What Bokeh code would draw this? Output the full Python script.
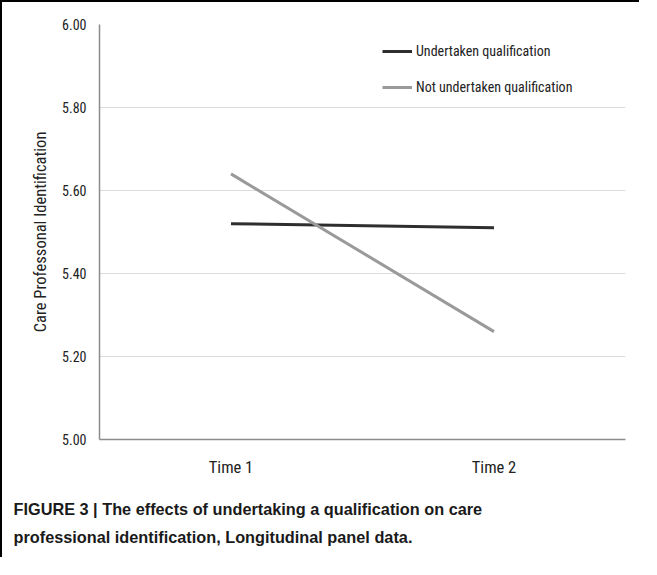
from bokeh.plotting import figure
from bokeh.models import Legend, LegendItem, FixedTicker, PrintfTickFormatter, Title
from bokeh.embed import file_html
from bokeh.resources import INLINE

times = ["Time 1", "Time 2"]
undertaken = [5.52, 5.51]
not_undertaken = [5.64, 5.26]
y_ticks = [5.0, 5.2, 5.4, 5.6, 5.8, 6.0]
y_label = "Care Professonal Identification"
series_names = ["Undertaken qualification", "Not undertaken qualification"]
caption_lines = [
    "FIGURE 3 | The effects of undertaking a qualification on care",
    "professional identification, Longitudinal panel data.",
]

COND = "Roboto Condensed"

p = figure(
    x_range=times, y_range=(5.0, 6.0),
    width=639, height=557,
    min_border_left=97, min_border_right=16, min_border_top=22, min_border_bottom=120,
    output_backend="svg", toolbar_location=None,
)
p.styles = {"border-left": "2px solid #000", "border-top": "2px solid #000"}
p.outline_line_color = None
p.background_fill_color = "white"

r1 = p.line(times, undertaken, line_color="#2e2e2e", line_width=3)
r2 = p.line(times, not_undertaken, line_color="#9a9a9a", line_width=3)

p.yaxis.ticker = FixedTicker(ticks=y_ticks)
p.yaxis.formatter = PrintfTickFormatter(format="%.2f")
for ax in (p.xaxis, p.yaxis):
    ax.major_tick_line_color = None
    ax.minor_tick_line_color = None
    ax.axis_line_color = "#8c8c8c"
    ax.axis_line_width = 1.5
    ax.major_label_text_color = "#222222"
    ax.major_label_text_font = COND
p.yaxis.major_label_text_font_size = "14px"
p.yaxis.major_label_standoff = 7
p.xaxis.major_label_text_font_size = "16.5px"
p.xaxis.major_label_standoff = 12
p.yaxis.axis_label = y_label
p.yaxis.axis_label_text_font = COND
p.yaxis.axis_label_text_font_style = "normal"
p.yaxis.axis_label_text_font_size = "16.5px"
p.yaxis.axis_label_text_color = "#222222"
p.yaxis.axis_label_standoff = 9

p.xgrid.grid_line_color = None
p.ygrid.grid_line_color = "#dcdcdc"
p.ygrid.grid_line_width = 1
p.ygrid.ticker = FixedTicker(ticks=y_ticks)

legend = Legend(
    items=[LegendItem(label=series_names[0], renderers=[r1]),
           LegendItem(label=series_names[1], renderers=[r2])],
    location=(283, 342), padding=0, margin=0, spacing=16,
    glyph_width=30, glyph_height=20, label_standoff=4,
    border_line_color=None, background_fill_alpha=0,
    label_text_font=COND, label_text_font_size="14px",
    label_text_color="#222222",
)
p.add_layout(legend, "center")

# spacer between the axis labels and the caption
p.add_layout(Title(text=" ", standoff=1, text_font_size="10px"), "below")
for line in caption_lines:
    p.add_layout(Title(
        text=line, align="left", offset=-86, standoff=8,
        text_font="Liberation Sans", text_font_style="bold",
        text_font_size="16.3px", text_color="#1a1a1a",
    ), "below")

open("out.html", "w").write(file_html(p, INLINE))
